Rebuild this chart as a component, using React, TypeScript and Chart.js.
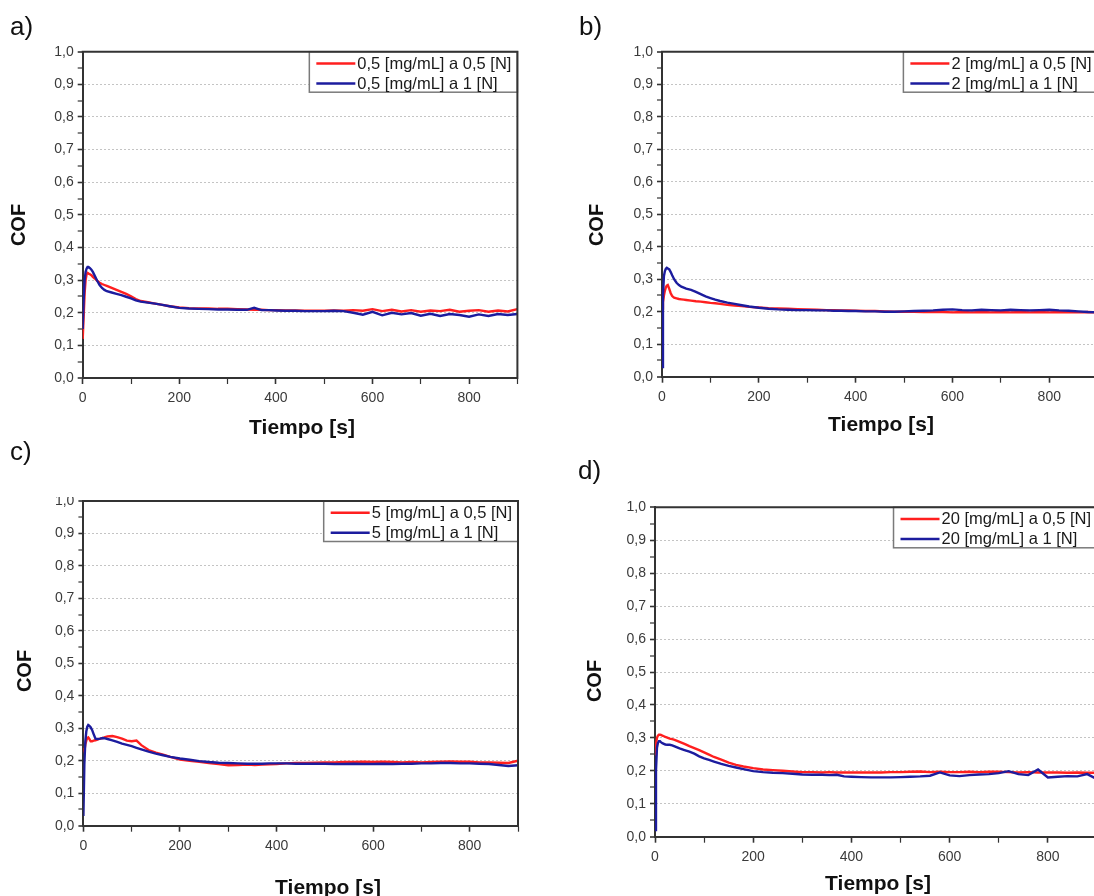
import React, { useEffect, useRef } from "react";
import { Chart, registerables } from "chart.js";

Chart.register(...registerables);

// ---------- DATA ----------
const TIME = [0, 2, 4, 6, 8, 10, 12, 15, 18, 21, 25, 30, 35, 40, 45, 50, 60, 70, 80, 90, 100, 110, 120, 135, 150, 165, 180, 200, 220, 240, 260, 280, 300, 320, 340, 355, 370, 385, 400, 420, 440, 460, 480, 500, 520, 540, 560, 580, 600, 620, 640, 660, 680, 700, 720, 740, 760, 780, 800, 820, 840, 860, 880, 900];

const CONCENTRATIONS = ["0,5", "2", "5", "20"];
const LOADS = ["0,5", "1"];

const COF_A_05 = [0.12, 0.19, 0.26, 0.3, 0.318, 0.322, 0.32, 0.318, 0.315, 0.31, 0.305, 0.298, 0.292, 0.288, 0.285, 0.282, 0.276, 0.27, 0.264, 0.258, 0.25, 0.242, 0.236, 0.232, 0.228, 0.224, 0.22, 0.216, 0.214, 0.213, 0.213, 0.212, 0.212, 0.211, 0.21, 0.209, 0.209, 0.208, 0.208, 0.207, 0.207, 0.206, 0.206, 0.206, 0.207, 0.206, 0.208, 0.206, 0.211, 0.205, 0.209, 0.204, 0.208, 0.203, 0.207, 0.205, 0.209, 0.203, 0.206, 0.208, 0.203, 0.207, 0.204, 0.211];
const COF_A_1 = [0.15, 0.24, 0.3, 0.325, 0.335, 0.34, 0.34, 0.337, 0.332, 0.325, 0.313, 0.298, 0.285, 0.276, 0.27, 0.266, 0.262, 0.258, 0.254, 0.249, 0.244, 0.238, 0.234, 0.231, 0.228, 0.224, 0.22, 0.215, 0.213, 0.212, 0.211, 0.21, 0.21, 0.209, 0.209, 0.215, 0.208, 0.208, 0.207, 0.206, 0.206, 0.205, 0.205, 0.205, 0.206, 0.205, 0.2, 0.194, 0.203, 0.192, 0.2, 0.195, 0.199, 0.191, 0.197, 0.19, 0.196, 0.193, 0.188, 0.195, 0.19, 0.196, 0.193, 0.196];

const COF_B_05 = [0.21, 0.23, 0.25, 0.265, 0.275, 0.28, 0.282, 0.27, 0.257, 0.248, 0.243, 0.241, 0.239, 0.238, 0.237, 0.236, 0.234, 0.232, 0.231, 0.229, 0.227, 0.226, 0.224, 0.221, 0.219, 0.217, 0.215, 0.213, 0.211, 0.21, 0.209, 0.208, 0.207, 0.206, 0.205, 0.205, 0.204, 0.204, 0.203, 0.202, 0.202, 0.201, 0.2, 0.2, 0.2, 0.199, 0.2, 0.199, 0.198, 0.199, 0.198, 0.199, 0.198, 0.199, 0.198, 0.199, 0.198, 0.199, 0.198, 0.199, 0.198, 0.198, 0.199, 0.198];
const COF_B_1 = [0.03, 0.25, 0.31, 0.325, 0.332, 0.335, 0.333, 0.33, 0.322, 0.312, 0.3, 0.289, 0.282, 0.277, 0.274, 0.271, 0.267, 0.261, 0.254, 0.247, 0.242, 0.237, 0.233, 0.228, 0.224, 0.22, 0.216, 0.212, 0.209, 0.207, 0.206, 0.205, 0.205, 0.204, 0.204, 0.203, 0.203, 0.202, 0.202, 0.201, 0.201, 0.2, 0.2, 0.201, 0.202, 0.203, 0.204, 0.206, 0.207, 0.205, 0.204, 0.206, 0.205, 0.204, 0.206, 0.205, 0.204, 0.205, 0.206, 0.204, 0.203, 0.201, 0.199, 0.198];

const COF_C_05 = [0.24, 0.23, 0.25, 0.262, 0.27, 0.272, 0.268, 0.26, 0.26, 0.262, 0.263, 0.266, 0.268, 0.27, 0.273, 0.275, 0.276, 0.273, 0.268, 0.262, 0.26, 0.262, 0.248, 0.233, 0.225, 0.219, 0.212, 0.204, 0.2, 0.197, 0.193, 0.19, 0.186, 0.187, 0.188, 0.187, 0.188, 0.189, 0.19, 0.192, 0.193, 0.193, 0.194, 0.195, 0.195, 0.196, 0.196, 0.197, 0.196, 0.197, 0.196, 0.195, 0.196, 0.195, 0.196, 0.197, 0.198, 0.197, 0.197, 0.195, 0.195, 0.194, 0.193, 0.2];
const COF_C_1 = [0.03, 0.19, 0.26, 0.29, 0.305, 0.31, 0.308, 0.303, 0.295, 0.283, 0.268, 0.267, 0.268, 0.27, 0.269, 0.267, 0.263, 0.258, 0.253, 0.249, 0.245, 0.24, 0.235, 0.228, 0.222, 0.217, 0.212, 0.207, 0.203, 0.199, 0.196, 0.194, 0.193, 0.192, 0.191, 0.191, 0.191, 0.192, 0.192, 0.192, 0.191, 0.191, 0.191, 0.191, 0.19, 0.19, 0.191, 0.19, 0.19, 0.191, 0.19, 0.191, 0.191, 0.192, 0.192, 0.193, 0.193, 0.192, 0.192, 0.191, 0.19, 0.187, 0.184, 0.186];

const COF_D_05 = [0.25, 0.28, 0.3, 0.307, 0.31, 0.31, 0.309, 0.307, 0.305, 0.303, 0.301, 0.298, 0.296, 0.294, 0.291, 0.288, 0.282, 0.275, 0.269, 0.263, 0.256, 0.249, 0.242, 0.234, 0.225, 0.218, 0.213, 0.208, 0.204, 0.202, 0.2, 0.198, 0.196, 0.196, 0.195, 0.196, 0.195, 0.195, 0.195, 0.195, 0.195, 0.195, 0.196, 0.196, 0.197, 0.198, 0.196, 0.197, 0.196, 0.196, 0.197, 0.196, 0.197, 0.197, 0.196, 0.195, 0.196, 0.195, 0.195, 0.195, 0.194, 0.195, 0.194, 0.194];
const COF_D_1 = [0.02, 0.2, 0.27, 0.285, 0.29, 0.29, 0.287, 0.284, 0.282, 0.28, 0.279, 0.279, 0.277, 0.274, 0.271, 0.268, 0.263, 0.258, 0.252, 0.244, 0.238, 0.233, 0.228, 0.221, 0.215, 0.21, 0.205, 0.199, 0.196, 0.194, 0.193, 0.191, 0.189, 0.188, 0.188, 0.187, 0.188, 0.183, 0.182, 0.181, 0.18, 0.18, 0.18, 0.181, 0.182, 0.183, 0.185, 0.195, 0.186, 0.184, 0.187, 0.189, 0.19, 0.193, 0.199, 0.19, 0.187, 0.204, 0.18, 0.182, 0.184, 0.183, 0.19, 0.175];

const X_TICK_LABELS = ["0", "200", "400", "600", "800"];

// ---------- STYLE / LAYOUT ----------
const FONT = '"Liberation Sans", Arial, Helvetica, sans-serif';
const RED = "#ff1f1f";
const BLUE = "#1c1c9e";
const AXIS = "#333333";

type Rect = { x: number; y: number; w: number; h: number };
type Plot = { l: number; t: number; r: number; b: number };
type PanelCfg = {
  letter: string;
  letterPos: [number, number];
  cofPos: [number, number];
  timePos: [number, number];
  canvas: Rect;
  plot: Plot;
  conc: string;
  red: number[];
  blue: number[];
  mask?: Rect;
};

const PANELS: PanelCfg[] = [
  {
    letter: "a)", letterPos: [10, 25.5], cofPos: [18, 225], timePos: [302, 426],
    canvas: { x: 0, y: 30, w: 545, h: 410 }, plot: { l: 82.7, t: 51.7, r: 517.4, b: 378 },
    conc: CONCENTRATIONS[0], red: COF_A_05, blue: COF_A_1,
  },
  {
    letter: "b)", letterPos: [579, 25.5], cofPos: [596, 225], timePos: [881, 423],
    canvas: { x: 550, y: 30, w: 570, h: 410 }, plot: { l: 662, t: 51.7, r: 1097.7, b: 376.7 },
    conc: CONCENTRATIONS[1], red: COF_B_05, blue: COF_B_1,
  },
  {
    letter: "c)", letterPos: [10, 451], cofPos: [24, 671], timePos: [328, 886],
    canvas: { x: 0, y: 465, w: 545, h: 431 }, plot: { l: 83.4, t: 501, r: 518, b: 825.7 },
    conc: CONCENTRATIONS[2], red: COF_C_05, blue: COF_C_1,
    mask: { x: 40, y: 470, w: 45, h: 27 },
  },
  {
    letter: "d)", letterPos: [578, 470], cofPos: [594, 681], timePos: [878, 882],
    canvas: { x: 550, y: 465, w: 570, h: 431 }, plot: { l: 655, t: 507.3, r: 1097, b: 836.7 },
    conc: CONCENTRATIONS[3], red: COF_D_05, blue: COF_D_1,
  },
];

const isMajorY = (v: number) => Math.round(v * 20) % 2 === 0;
const isMajorX = (v: number) => Math.round(v) % 200 === 0;

const frameLegendPlugin = {
  id: "frameLegend",
  afterDraw(chart: any) {
    const { ctx } = chart;
    const { left, top, right, bottom } = chart.chartArea;
    const ds = chart.data.datasets;
    ctx.save();
    ctx.font = `16.5px ${FONT}`;
    const textW = Math.max(...ds.map((d: any) => ctx.measureText(d.label).width));
    const w = 7 + 39 + 2 + textW + 6;
    const h = 40.5;
    const x0 = right - w;
    const y0 = top;
    ctx.fillStyle = "#ffffff";
    ctx.fillRect(x0, y0, w, h);
    ctx.strokeStyle = "#7a7a7a";
    ctx.lineWidth = 1.5;
    ctx.strokeRect(x0, y0, w, h);
    ds.forEach((d: any, i: number) => {
      const cy = y0 + 11.8 + i * 20;
      ctx.strokeStyle = d.borderColor;
      ctx.lineWidth = 2.5;
      ctx.beginPath();
      ctx.moveTo(x0 + 7, cy);
      ctx.lineTo(x0 + 46, cy);
      ctx.stroke();
      ctx.fillStyle = "#1a1a1a";
      ctx.textAlign = "left";
      ctx.textBaseline = "middle";
      ctx.fillText(d.label, x0 + 48, cy + 0.5);
    });
    // plot frame (top and right)
    ctx.strokeStyle = AXIS;
    ctx.lineWidth = 2;
    ctx.beginPath();
    ctx.moveTo(left - 1, top);
    ctx.lineTo(right, top);
    ctx.lineTo(right, bottom + 1);
    ctx.stroke();
    ctx.restore();
  },
};

function Panel({ cfg }: { cfg: PanelCfg }) {
  const ref = useRef<HTMLCanvasElement | null>(null);

  useEffect(() => {
    if (!ref.current) return;
    const { canvas, plot } = cfg;
    const padTop = plot.t - canvas.y;
    const padRight = canvas.x + canvas.w - plot.r;
    const yWidth = plot.l - canvas.x;
    const xHeight = canvas.y + canvas.h - plot.b;

    const chart = new Chart(ref.current, {
      type: "line",
      data: {
        labels: TIME,
        datasets: [
          {
            label: `${cfg.conc} [mg/mL] a ${LOADS[0]} [N]`,
            data: TIME.map((t, i) => ({ x: t, y: cfg.red[i] })),
            borderColor: RED,
            borderWidth: 2.4,
            pointRadius: 0,
            tension: 0,
            order: 1,
          },
          {
            label: `${cfg.conc} [mg/mL] a ${LOADS[1]} [N]`,
            data: TIME.map((t, i) => ({ x: t, y: cfg.blue[i] })),
            borderColor: BLUE,
            borderWidth: 2.4,
            pointRadius: 0,
            tension: 0,
            order: 0,
          },
        ],
      },
      options: {
        responsive: false,
        maintainAspectRatio: false,
        animation: false,
        devicePixelRatio: 1,
        layout: { padding: { top: padTop, right: padRight, left: 0, bottom: 0 } },
        plugins: {
          legend: { display: false },
          tooltip: { enabled: false },
          title: { display: false },
        },
        scales: {
          x: {
            type: "linear",
            min: 0,
            max: 900,
            afterFit: (s: any) => { s.height = xHeight; },
            ticks: {
              stepSize: 100,
              autoSkip: false,
              maxRotation: 0,
              includeBounds: false,
              padding: 6,
              color: "#3a3a3a",
              font: { family: FONT, size: 14 },
              callback: (v: any) => {
                const n = Number(v);
                if (!isMajorX(n)) return "";
                const lbl = X_TICK_LABELS.find((l) => Number(l) === Math.round(n));
                return lbl ?? "";
              },
            },
            grid: {
              drawOnChartArea: false,
              drawTicks: true,
              tickLength: 6,
              tickColor: AXIS,
              tickWidth: (c: any) => (isMajorX(c.tick.value) ? 1.6 : 1.2),
            },
            border: { display: true, color: AXIS, width: 2 },
          },
          y: {
            type: "linear",
            min: 0,
            max: 1,
            afterFit: (s: any) => { s.width = yWidth; },
            ticks: {
              stepSize: 0.05,
              maxTicksLimit: 40,
              autoSkip: false,
              padding: 4,
              color: "#3a3a3a",
              font: { family: FONT, size: 14 },
              callback: (v: any) => {
                const n = Number(v);
                return isMajorY(n) ? n.toFixed(1).replace(".", ",") : "";
              },
            },
            grid: {
              drawOnChartArea: true,
              drawTicks: true,
              tickLength: 5,
              tickColor: AXIS,
              tickWidth: (c: any) => (isMajorY(c.tick.value) ? 1.6 : 1.2),
              color: "#c4c4c4",
              lineWidth: (c: any) => {
                const v = c.tick.value;
                if (!isMajorY(v)) return 0;
                if (v < 0.01 || v > 0.99) return 0;
                return 1;
              },
            },
            border: { display: true, color: AXIS, width: 2, dash: [2, 2] },
          },
        },
      },
      plugins: [frameLegendPlugin],
    } as any);
    return () => chart.destroy();
  }, [cfg]);

  const { canvas } = cfg;
  return (
    <>
      <canvas
        ref={ref}
        width={canvas.w}
        height={canvas.h}
        style={{ position: "absolute", left: canvas.x, top: canvas.y, width: canvas.w, height: canvas.h }}
      />
      {cfg.mask && (
        <div
          style={{
            position: "absolute", left: cfg.mask.x, top: cfg.mask.y, width: cfg.mask.w, height: cfg.mask.h,
            background: "#fff", zIndex: 2,
          }}
        />
      )}
      <div
        style={{
          position: "absolute", left: cfg.letterPos[0], top: cfg.letterPos[1], transform: "translateY(-50%)",
          fontFamily: FONT, fontSize: 26, lineHeight: 1, color: "#111", whiteSpace: "nowrap", zIndex: 3,
        }}
      >
        {cfg.letter}
      </div>
      <div
        style={{
          position: "absolute", left: cfg.cofPos[0], top: cfg.cofPos[1],
          transform: "translate(-50%, -50%) rotate(-90deg)",
          fontFamily: FONT, fontSize: 20, fontWeight: "bold", lineHeight: 1, color: "#111", whiteSpace: "nowrap", zIndex: 3,
        }}
      >
        COF
      </div>
      <div
        style={{
          position: "absolute", left: cfg.timePos[0], top: cfg.timePos[1],
          transform: "translate(-50%, -50%)",
          fontFamily: FONT, fontSize: 21, fontWeight: "bold", lineHeight: 1, color: "#111", whiteSpace: "nowrap", zIndex: 3,
        }}
      >
        Tiempo [s]
      </div>
    </>
  );
}

export default function App() {
  return (
    <div
      style={{
        position: "absolute", left: 0, top: 0, width: 1094, height: 896, overflow: "hidden", background: "#fff",
      }}
    >
      {PANELS.map((p) => (
        <Panel key={p.letter} cfg={p} />
      ))}
    </div>
  );
}
